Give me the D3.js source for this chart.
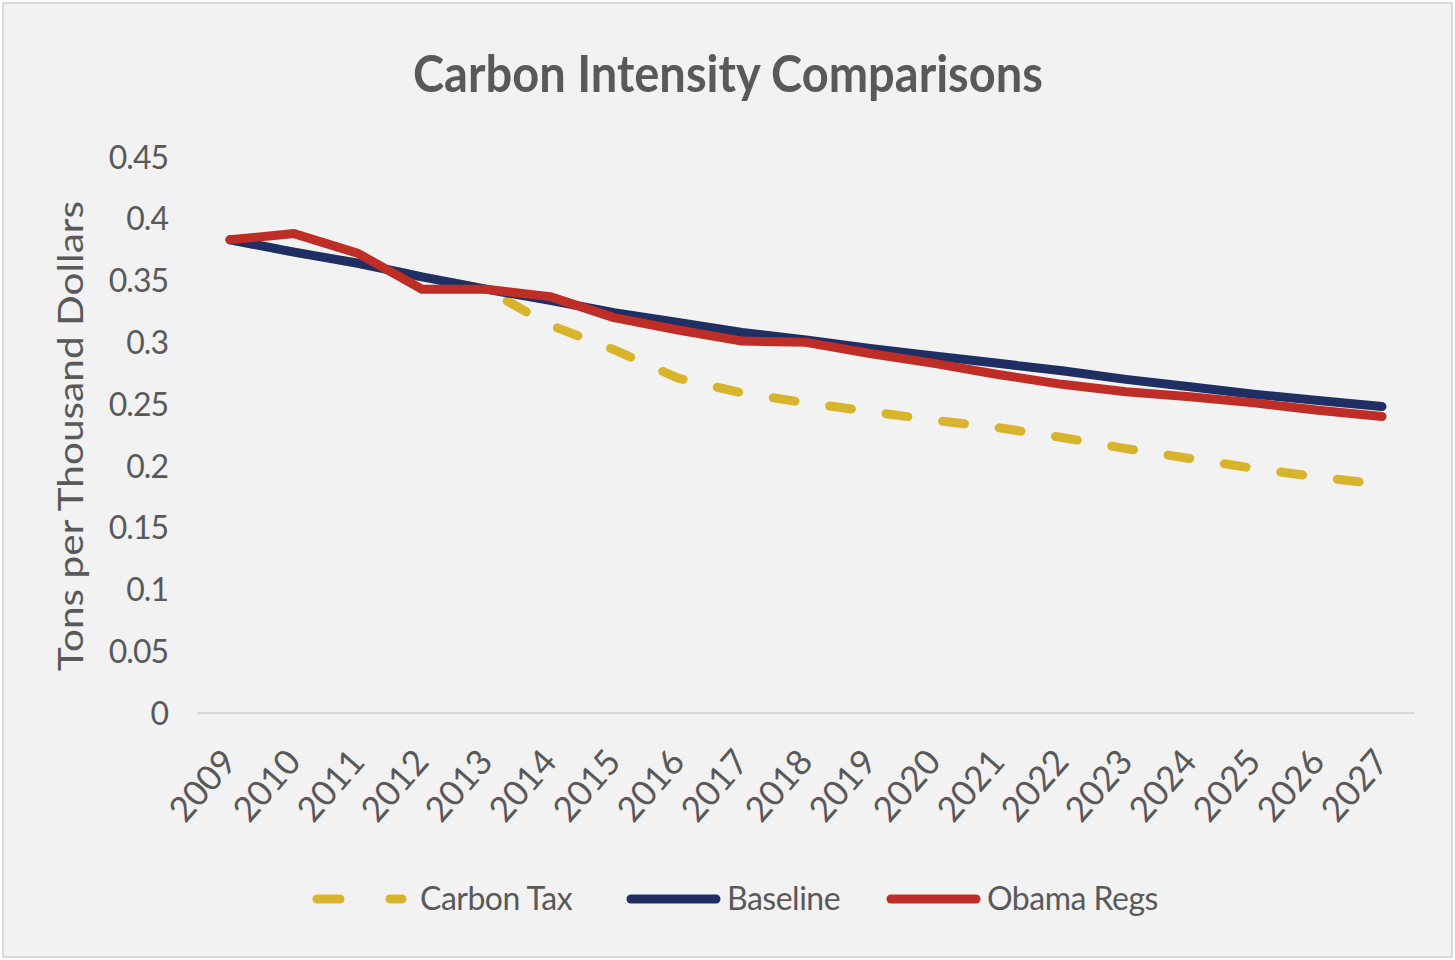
<!DOCTYPE html>
<html>
<head>
    <meta charset="UTF-8">
    <title>Carbon Intensity Comparisons</title>
    <style>
        body { margin: 0; background: #fff; }
        svg text { font-family: Lato, "Open Sans", sans-serif; fill: #595959; }
    </style>
</head>
<body>
    <svg width="1455" height="960"></svg>
    <script src="https://cdn.jsdelivr.net/npm/d3@7"></script>
    <script>
        const years = d3.range(2009, 2028);
        const carbonTax = [0.383, 0.373, 0.364, 0.353, 0.343, 0.314, 0.294, 0.271, 0.259, 0.251, 0.244,
            0.237, 0.231, 0.223, 0.214, 0.206, 0.198, 0.191, 0.185];
        const baseline = [0.383, 0.373, 0.364, 0.353, 0.343, 0.334, 0.324, 0.316, 0.308, 0.302, 0.295,
            0.289, 0.283, 0.277, 0.270, 0.264, 0.258, 0.253, 0.248];
        const obamaRegs = [0.383, 0.388, 0.372, 0.343, 0.343, 0.337, 0.320, 0.310, 0.301, 0.300, 0.291,
            0.283, 0.274, 0.266, 0.260, 0.256, 0.251, 0.245, 0.240];
        const yTicks = [0, 0.05, 0.1, 0.15, 0.2, 0.25, 0.3, 0.35, 0.4, 0.45];

        const series = [
            { name: "Carbon Tax", values: carbonTax, color: "#d8b42c", dash: "22,35" },
            { name: "Baseline", values: baseline, color: "#1f2f63", dash: null },
            { name: "Obama Regs", values: obamaRegs, color: "#be2e27", dash: null }
        ];

        const svg = d3.select("svg");

        svg.append("rect")
            .attr("x", 3).attr("y", 3)
            .attr("width", 1449).attr("height", 954)
            .attr("fill", "#f2f2f2")
            .attr("stroke", "#d9d9d9")
            .attr("stroke-width", 2);

        const x = d3.scalePoint().domain(years).range([230, 1382]),
            y = d3.scaleLinear().domain([0, 0.45]).range([713, 157]);

        svg.append("text")
            .attr("x", 728).attr("y", 92)
            .attr("text-anchor", "middle")
            .attr("textLength", 630)
            .attr("lengthAdjust", "spacingAndGlyphs")
            .style("font-size", "52px")
            .style("font-weight", "bold")
            .text("Carbon Intensity Comparisons");

        // y axis (labels only)
        const yAxis = svg.append("g")
            .attr("transform", "translate(168,0)")
            .call(d3.axisLeft(y).tickValues(yTicks).tickFormat(d => String(+d.toFixed(2))).tickSize(0).tickPadding(0));
        yAxis.select(".domain").remove();
        yAxis.selectAll("text")
            .attr("dy", "0.35em")
            .style("font-size", "32px")
            .style("letter-spacing", "-1px");

        svg.append("text")
            .attr("transform", "translate(83,436) rotate(-90)")
            .attr("text-anchor", "middle")
            .attr("textLength", 470)
            .attr("lengthAdjust", "spacingAndGlyphs")
            .style("font-size", "35px")
            .text("Tons per Thousand Dollars");

        // x axis
        svg.append("line")
            .attr("x1", 197).attr("x2", 1415)
            .attr("y1", y(0)).attr("y2", y(0))
            .attr("stroke", "#d9d9d9").attr("stroke-width", 2);

        const xAxis = svg.append("g")
            .attr("transform", `translate(0,${y(0)})`)
            .call(d3.axisBottom(x).tickSize(0).tickPadding(0));
        xAxis.select(".domain").remove();
        xAxis.selectAll("text")
            .attr("text-anchor", "end")
            .attr("dy", null)
            .attr("transform", "translate(8,50) rotate(-49)")
            .style("font-size", "35px")
            .style("letter-spacing", "0px");

        const line = d3.line()
            .x((d, i) => x(years[i]))
            .y(d => y(d));

        svg.append("g").selectAll("path")
            .data(series)
            .join("path")
            .attr("d", d => line(d.values))
            .attr("fill", "none")
            .attr("stroke", d => d.color)
            .attr("stroke-width", 9)
            .attr("stroke-linecap", "round")
            .attr("stroke-linejoin", "round")
            .attr("stroke-dasharray", d => d.dash);

        // legend
        const legendX = [313, 627, 887];
        const legend = svg.append("g").selectAll("g")
            .data(series)
            .join("g")
            .attr("transform", (d, i) => `translate(${legendX[i]},899)`);
        legend.append("line")
            .attr("x1", 4).attr("x2", 89)
            .attr("stroke", d => d.color)
            .attr("stroke-width", 9)
            .attr("stroke-linecap", "round")
            .attr("stroke-dasharray", d => d.dash ? "23,50" : null);
        legend.append("text")
            .attr("x", (d, i) => i === 0 ? 107 : 100)
            .attr("dy", "0.35em")
            .style("font-size", "32px")
            .style("letter-spacing", "-0.5px")
            .text(d => d.name);
    </script>
</body>
</html>
